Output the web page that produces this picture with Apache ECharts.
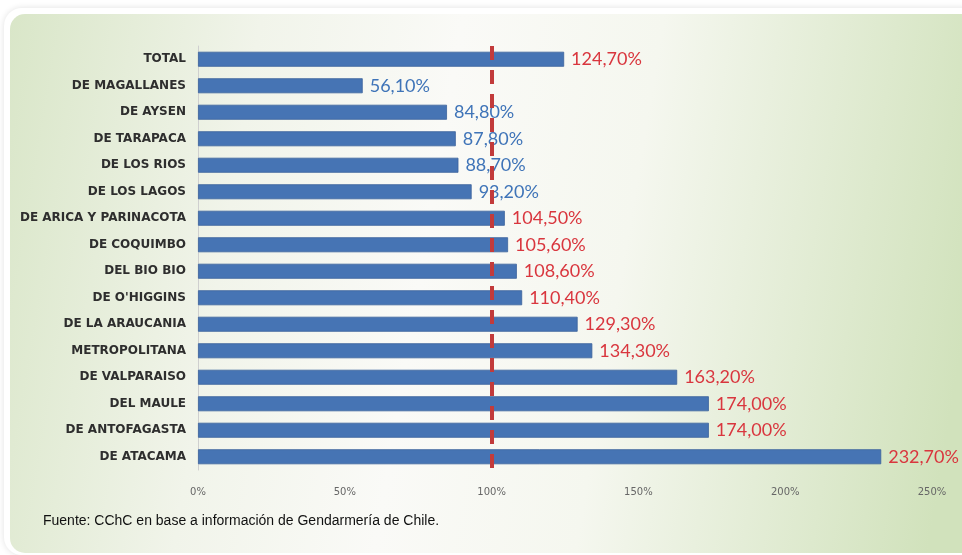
<!DOCTYPE html>
<html><head><meta charset="utf-8">
<script src="https://cdn.jsdelivr.net/npm/echarts@6/dist/echarts.min.js"></script>
<style>html,body{margin:0;padding:0;background:#fff}#c{width:962px;height:555px}</style>
</head><body><div id="c"></div>
<script>
const categories = ["TOTAL","DE MAGALLANES","DE AYSEN","DE TARAPACA","DE LOS RIOS","DE LOS LAGOS","DE ARICA Y PARINACOTA","DE COQUIMBO","DEL BIO BIO","DE O'HIGGINS","DE LA ARAUCANIA","METROPOLITANA","DE VALPARAISO","DEL MAULE","DE ANTOFAGASTA","DE ATACAMA"];
const values = [124.7,56.1,84.8,87.8,88.7,93.2,104.5,105.6,108.6,110.4,129.3,134.3,163.2,174.0,174.0,232.7];
const xTicks = [0,50,100,150,200,250];
const threshold = 100;
const source = "Fuente: CChC en base a información de Gendarmería de Chile.";

const chart = echarts.init(document.getElementById('c'));
chart.setOption({
  animation:false,
  graphic:[
    {type:'rect',z:-10,shape:{x:4,y:8,width:980,height:547,r:18},style:{fill:'#fff',shadowBlur:6,shadowColor:'rgba(0,0,0,0.12)'}},
    {type:'rect',z:-9,shape:{x:10,y:14,width:980,height:539,r:15},
     style:{fill:new echarts.graphic.LinearGradient(0,0,1,0.3,[
       {offset:0,color:'#d9e6c8'},{offset:0.25,color:'#f1f4ea'},{offset:0.45,color:'#fafaf7'},
       {offset:0.65,color:'#f5f7ef'},{offset:1,color:'#d1e2bc'}])}},
    {type:'text',left:43,top:514,style:{text:source,font:'14px "Liberation Sans", Arial',fill:'#111'}}
  ],
  grid:{left:198,top:46,width:734,height:424,containLabel:false},
  xAxis:{type:'value',min:xTicks[0],max:xTicks[xTicks.length-1],interval:xTicks[1]-xTicks[0],
    axisLine:{show:false},axisTick:{show:false},splitLine:{show:false},
    axisLabel:{formatter:v=>v+'%',color:'#666',fontSize:10,fontFamily:'DejaVu Sans',margin:17}},
  yAxis:{type:'category',inverse:true,data:categories,
    axisLine:{show:true,lineStyle:{color:'#cfcfcf',width:1}},axisTick:{show:false},
    axisLabel:{color:'#2e2e2e',fontSize:12,fontWeight:'bold',fontFamily:'DejaVu Sans',margin:12}},
  series:[{type:'bar',barWidth:15,
    data:values.map(v=>({value:v,label:{color:v<threshold?'#3f74b8':'#d9363e'}})),
    itemStyle:{color:'#4674b4',borderColor:'#3b629c',borderWidth:0.8},
    label:{show:true,position:'right',distance:7,fontFamily:'Lato',fontSize:18,
      formatter:p=>p.value.toFixed(2).replace('.',',')+'%'},
    markLine:{silent:true,symbol:'none',label:{show:false},
      lineStyle:{color:'#c23b3b',width:4,type:[14,10]},
      data:[{xAxis:threshold}]}
  }]
});
</script></body></html>
